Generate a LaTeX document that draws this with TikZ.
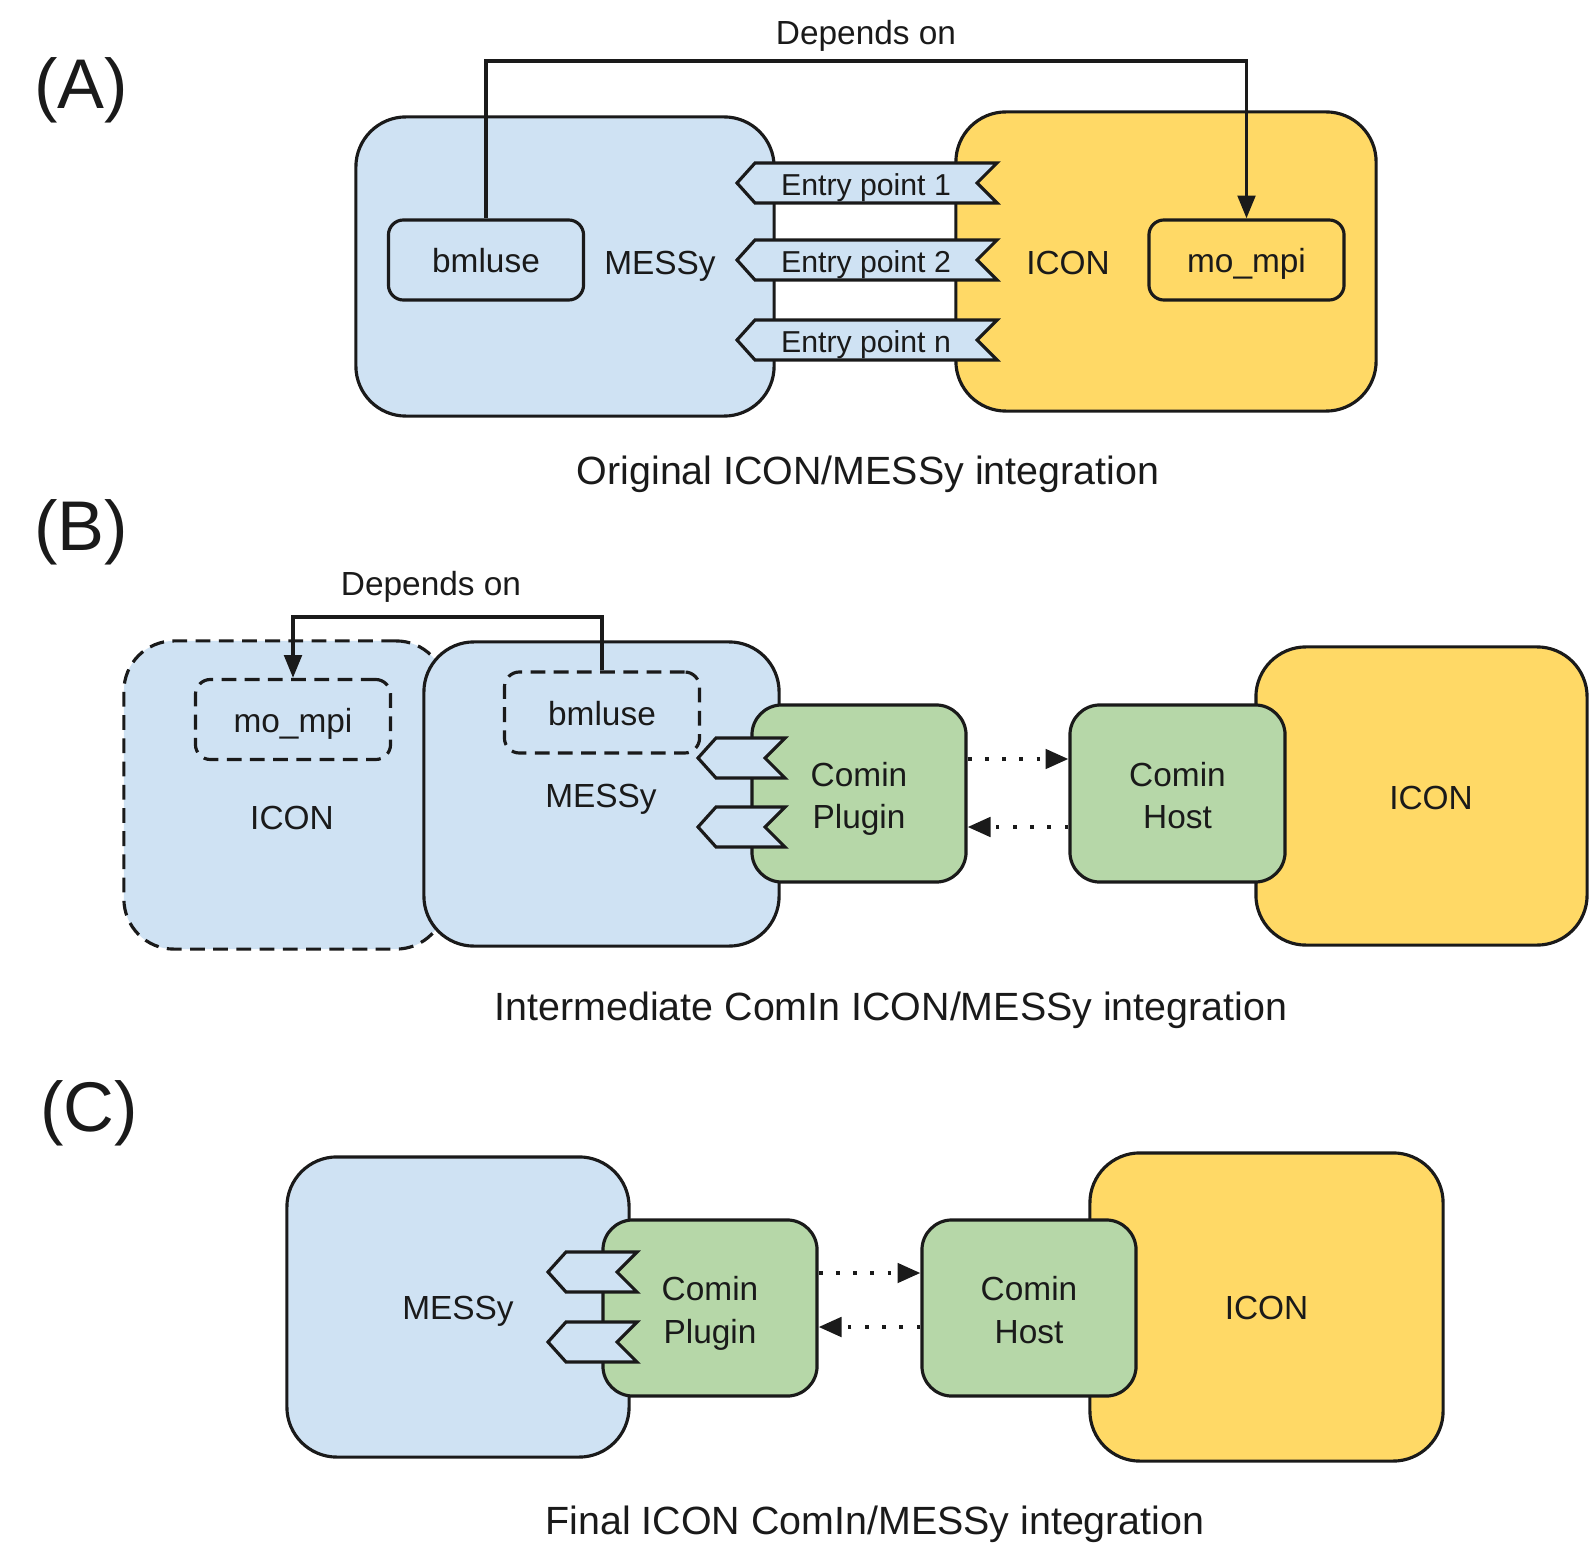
\documentclass[tikz,border=0pt]{standalone}
\usepackage{fontspec}
\setmainfont{Liberation Sans}
\usepackage{xcolor}
\usepackage{tikz}
\usetikzlibrary{arrows.meta, positioning}

\definecolor{messyblue}{HTML}{CFE2F3}
\definecolor{iconyellow}{HTML}{FFD966}
\definecolor{cominggreen}{HTML}{B6D7A8}
\definecolor{ink}{HTML}{1A1A1A}

\newcommand{\entrytab}[3]{%
  \draw[tabshape] (#1,#3) -- ++(18,-20) -- (#2,#3-20) -- ++(-20,20)
    -- ++(20,20) -- (#1+18,#3+20) -- cycle;}

\begin{document}
\begin{tikzpicture}[x=0.01cm, y=-0.01cm, every node/.style={font=\fontsize{9.5}{12.1}\selectfont, text=ink, text height=0.72em, text depth=-0.15em}]
  \tikzset{
    box/.style={draw=ink, line width=0.9pt, rounded corners=0.5cm, inner sep=0pt},
    bluebox/.style={box, fill=messyblue},
    yellowbox/.style={box, fill=iconyellow},
    greenbox/.style={box, fill=cominggreen, rounded corners=0.3cm, align=center, text height=2.0em},
    small/.style={draw=ink, line width=0.9pt, rounded corners=0.15cm, inner sep=0pt,
      minimum width=1.95cm, minimum height=0.8cm},
    tabshape/.style={draw=ink, line width=0.9pt, fill=messyblue, line join=miter},
    dashedline/.style={dash pattern=on 4.2pt off 2.4pt},
    dep/.style={draw=ink, line width=1pt, -{Triangle[length=6.5pt, width=5pt]}},
    dotarr/.style={draw=ink, line width=1.1pt, dash pattern=on 1.1pt off 3.8pt,
      -{Triangle[length=6.5pt, width=5.5pt]}},
    entry/.style={font=\fontsize{8.6}{10}\selectfont, inner sep=0pt},
    title/.style={font=\fontsize{11.2}{13}\selectfont},
    panel/.style={font=\fontsize{20}{24}\selectfont}
  }
  \useasboundingbox (0,0) rectangle (1591,1567);

  % (A)
  \node[panel] (panA) at (81,96) {(A)};
  \node[bluebox, minimum width=4.18cm, minimum height=2.99cm] (messyA) at (565,266.5) {};
  \node[yellowbox, minimum width=4.20cm, minimum height=2.99cm] (iconA) at (1166,261.5) {};
  \node[small, fill=messyblue] (bmluseA) at (486,260) {bmluse};
  \node[small, fill=iconyellow] (mompiA) at (1246.5,260) {mo\_mpi};
  \node (messyAlbl) at (660,262) {MESSy};
  \node (iconAlbl) at (1068,262) {ICON};
  \entrytab{737}{997}{183}
  \entrytab{737}{997}{260}
  \entrytab{737}{997}{340}
  \node[entry] (epA1) at (866,183) {Entry point 1};
  \node[entry] (epA2) at (866,260) {Entry point 2};
  \node[entry] (epAn) at (866,340) {Entry point n};
  \coordinate (depA) at (866,61);
  \node (depAlbl) at (866,32) {Depends on};
  \draw[dep] (bmluseA.north) |- (depA) -| (mompiA.north);
  \node[title] (titleA) at (868,472) {Original ICON/MESSy integration};

  % (B)
  \node[panel] (panB) at (81,538) {(B)};
  \node[bluebox, dashedline, minimum width=3.22cm, minimum height=3.08cm] (iconB) at (285,795) {};
  \node (iconBlbl) at (292,817) {ICON};
  \node[small, dashedline, fill=messyblue] (mompiB) at (293,719.5) {mo\_mpi};
  \node[bluebox, minimum width=3.55cm, minimum height=3.04cm] (messyB) at (601.5,794) {};
  \node[small, dashedline, fill=messyblue, minimum height=0.81cm] (bmluseB) at (602,712.5) {bmluse};
  \node (messyBlbl) at (601,795) {MESSy};
  \node[greenbox, minimum width=2.14cm, minimum height=1.77cm] (plugB) at (859,793.5) {Comin\\Plugin};
  \entrytab{698}{785}{758}
  \entrytab{698}{785}{827}
  \node[yellowbox, minimum width=3.31cm, minimum height=2.98cm] (iconB2) at (1421.5,796) {};
  \node (iconB2lbl) at (1431,797) {ICON};
  \node[greenbox, minimum width=2.15cm, minimum height=1.77cm] (hostB) at (1177.5,793.5) {Comin\\Host};
  \draw[dotarr] (plugB.east |- 0,759) -- (hostB.west |- 0,759);
  \draw[dotarr] (hostB.west |- 0,827) -- (plugB.east |- 0,827);
  \coordinate (depB) at (431,617);
  \node (depBlbl) at (431,583) {Depends on};
  \draw[dep] (bmluseB.north) |- (depB) -| (mompiB.north);
  \node[title] (titleB) at (891,1008) {Intermediate ComIn ICON/MESSy integration};

  % (C)
  \node[panel] (panC) at (89,1119) {(C)};
  \node[bluebox, minimum width=3.42cm, minimum height=3.00cm] (messyC) at (458,1307) {MESSy};
  \node[greenbox, minimum width=2.14cm, minimum height=1.76cm] (plugC) at (710,1308) {Comin\\Plugin};
  \entrytab{548}{637}{1272}
  \entrytab{548}{637}{1342}
  \node[yellowbox, minimum width=3.53cm, minimum height=3.08cm] (iconC) at (1266.5,1307) {ICON};
  \node[greenbox, minimum width=2.14cm, minimum height=1.76cm] (hostC) at (1029,1308) {Comin\\Host};
  \draw[dotarr] (plugC.east |- 0,1273) -- (hostC.west |- 0,1273);
  \draw[dotarr] (hostC.west |- 0,1327) -- (plugC.east |- 0,1327);
  \node[title] (titleC) at (875,1522) {Final ICON ComIn/MESSy integration};
\end{tikzpicture}
\end{document}
